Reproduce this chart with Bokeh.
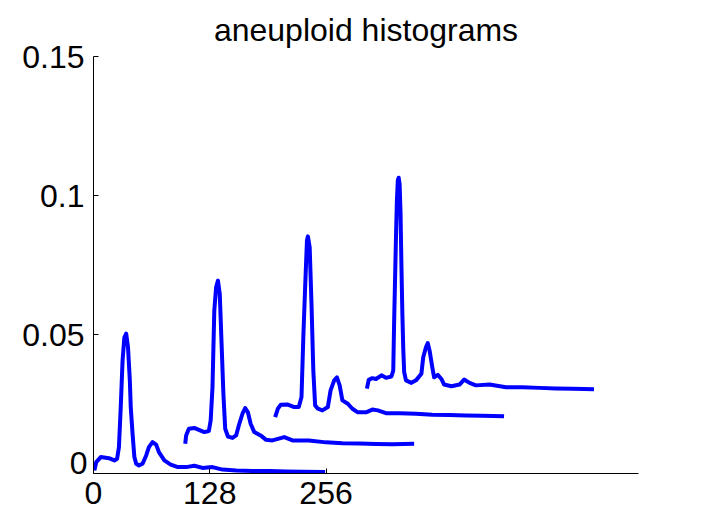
from bokeh.plotting import figure
from bokeh.models import Range1d, FixedTicker, LinearAxis
from bokeh.embed import file_html
from bokeh.resources import INLINE

# ---- data (histogram values; local bins 0..255) ----
c1_bins = [1, 3, 8, 17, 23, 26, 28, 30, 32, 34, 36, 38, 40, 41, 43, 45, 47, 50, 54, 58, 61, 65, 69, 72, 78, 85, 93,
           102, 111, 120, 131, 142, 157, 175, 194, 212, 230, 255]
c1_vals = [0.0011, 0.0041, 0.0059, 0.0055, 0.0047, 0.0053, 0.0095, 0.0239, 0.0406, 0.0490, 0.0503, 0.0454, 0.0335,
           0.0239, 0.0143, 0.0059, 0.0035, 0.0029, 0.0035, 0.0065, 0.0095, 0.0113, 0.0104, 0.0077, 0.0047, 0.0032,
           0.0023, 0.0023, 0.0028, 0.0020, 0.0023, 0.0014, 0.0011, 0.0009, 0.0009, 0.0007, 0.0006, 0.0005]

c2_bins = [1, 2, 5, 11, 16, 22, 27, 29, 31, 32, 33, 35, 37, 39, 41, 43, 45, 48, 53, 57, 60, 64, 67, 70, 73, 77, 84,
           90, 97, 110, 119, 137, 156, 174, 193, 211, 229, 253]
c2_vals = [0.0007, 0.0037, 0.0061, 0.0064, 0.0057, 0.0049, 0.0053, 0.0091, 0.0210, 0.0350, 0.0486, 0.0570, 0.0594,
           0.0546, 0.0367, 0.0187, 0.0061, 0.0033, 0.0028, 0.0037, 0.0073, 0.0115, 0.0135, 0.0120, 0.0079, 0.0049,
           0.0037, 0.0021, 0.0019, 0.0031, 0.0019, 0.0019, 0.0012, 0.0009, 0.0008, 0.0006, 0.0005, 0.0007]

c3_bins = [0, 3, 6, 14, 21, 26, 29, 31, 33, 35, 36, 38, 40, 42, 44, 47, 52, 58, 61, 65, 68, 71, 74, 80, 85, 91, 100,
           107, 113, 122, 137, 155, 173, 192, 210, 228, 252]
c3_vals = [0.0003, 0.0033, 0.0047, 0.0048, 0.0039, 0.0039, 0.0075, 0.0290, 0.0470, 0.0638, 0.0653, 0.0614, 0.0410,
           0.0170, 0.0045, 0.0033, 0.0027, 0.0039, 0.0099, 0.0135, 0.0146, 0.0117, 0.0063, 0.0051, 0.0033, 0.0020,
           0.0020, 0.0030, 0.0027, 0.0017, 0.0017, 0.0015, 0.0011, 0.0010, 0.0009, 0.0008, 0.0006]

c4_bins = [1, 3, 7, 11, 17, 22, 28, 30, 31, 32, 33, 34, 35, 36, 37, 38, 39, 40, 41, 42, 44, 50, 55, 61, 63, 66, 68,
           70, 73, 75, 79, 83, 86, 94, 103, 108, 114, 121, 136, 154, 172, 191, 209, 228, 251]
c4_vals = [0.0005, 0.0037, 0.0043, 0.0040, 0.0053, 0.0044, 0.0049, 0.0070, 0.0250, 0.0400, 0.0550, 0.0680, 0.0754,
           0.0764, 0.0740, 0.0640, 0.0450, 0.0280, 0.0150, 0.0065, 0.0035, 0.0026, 0.0035, 0.0059, 0.0118, 0.0154,
           0.0169, 0.0142, 0.0082, 0.0046, 0.0055, 0.0040, 0.0020, 0.0014, 0.0020, 0.0038, 0.0026, 0.0017, 0.0020,
           0.0010, 0.0010, 0.0008, 0.0006, 0.0005, 0.0003]

curves = [(c1_bins, c1_vals), (c2_bins, c2_vals), (c3_bins, c3_vals), (c4_bins, c4_vals)]
x_shift = 100      # each histogram shifted right by 100 bins
y_shift = 0.01     # and raised by 0.01

x_ticks = [0, 128, 256]
y_ticks = [0.05, 0.1, 0.15]
y_zero_tick = [0]

FONT = "Liberation Sans"
FS = "32px"

p = figure(frame_width=545, frame_height=417,
           x_range=Range1d(0, 600), y_range=Range1d(0, 0.15),
           output_backend="svg", toolbar_location=None,
           min_border_left=93, min_border_right=50, min_border_top=56, min_border_bottom=44)

p.title.text = "aneuploid histograms"
p.title.align = "center"
p.title.text_font = FONT
p.title.text_font_size = FS
p.title.text_font_style = "normal"
p.title.text_color = "black"
p.title.standoff = 17

p.grid.visible = False
p.outline_line_color = None
p.background_fill_color = "white"
p.border_fill_color = "white"

for ax in (p.xaxis[0], p.yaxis[0]):
    ax.major_tick_in = 5
    ax.major_tick_out = 0
    ax.minor_tick_line_color = None
    ax.axis_line_color = "black"
    ax.major_tick_line_color = "black"
    ax.major_label_text_font = FONT
    ax.major_label_text_font_size = FS
    ax.major_label_text_color = "black"

p.xaxis.ticker = FixedTicker(ticks=x_ticks)
p.xaxis.major_label_standoff = 8
p.yaxis.ticker = FixedTicker(ticks=y_ticks + y_zero_tick)
p.yaxis.major_label_overrides = {0: ""}
p.yaxis.major_label_standoff = 9

# the "0" label of the y axis sits ~11px above its tick in the original
px_per_unit = 417 / 0.15
lift = 11 / px_per_unit
p.extra_y_ranges = {"zero_lbl": Range1d(-lift, 0.15 - lift)}
zero_axis = LinearAxis(y_range_name="zero_lbl", ticker=FixedTicker(ticks=y_zero_tick),
                       axis_line_color=None, major_tick_line_color=None, minor_tick_line_color=None,
                       major_tick_in=0, major_tick_out=0, major_label_standoff=-68,
                       major_label_text_font=FONT, major_label_text_font_size=FS,
                       major_label_text_color="black")
p.add_layout(zero_axis, "left")

for k, (bins, vals) in enumerate(curves):
    xs = [b + x_shift * k for b in bins]
    ys = [v + y_shift * k for v in vals]
    p.line(xs, ys, line_color="#0000ff", line_width=4, line_join="round")

open("out.html", "w").write(file_html(p, INLINE))
